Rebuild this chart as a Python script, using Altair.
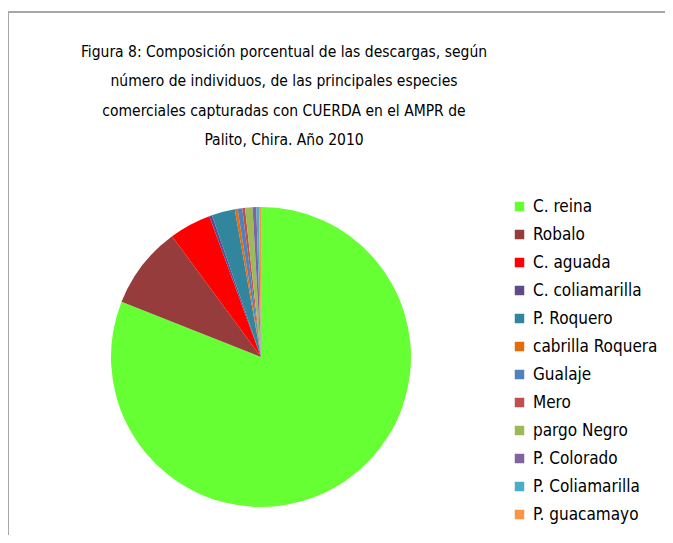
import altair as alt
import pandas as pd

species = ["C. reina", "Robalo", "C. aguada", "C. coliamarilla", "P. Roquero",
           "cabrilla Roquera", "Gualaje", "Mero", "pargo Negro", "P. Colorado",
           "P. Coliamarilla", "P. guacamayo"]
percent = [81.0, 8.9, 4.5, 0.3, 2.5, 0.3, 0.5, 0.3, 0.8, 0.4, 0.3, 0.2]
colors = ["#66ff33", "#963c3c", "#ff0000", "#5f4b8b", "#31859c", "#e46c0a",
          "#4f81bd", "#c0504d", "#9bbb59", "#8064a2", "#4bacc6", "#f79646"]
title_lines = ["Figura 8: Composición porcentual de las descargas, según",
               "número de individuos, de las principales especies",
               "comerciales capturadas con CUERDA en el AMPR de",
               "Palito, Chira. Año 2010"]

df = pd.DataFrame({"especie": species, "pct": percent, "orden": list(range(len(species)))})
tdf = pd.DataFrame({"t": ["\n".join(title_lines)]})

FONT = "DejaVu Sans Condensed, Roboto"

pie = alt.Chart(df).mark_arc(outerRadius=150, strokeWidth=0).encode(
    theta=alt.Theta("pct:Q", stack=True),
    order=alt.Order("orden:Q"),
    x=alt.value(253),
    y=alt.value(345),
    color=alt.Color("especie:N",
                    scale=alt.Scale(domain=species, range=colors),
                    sort=species,
                    legend=alt.Legend(title=None, orient="none", legendX=503, legendY=186,
                                      symbolType="square", symbolSize=90,
                                      symbolStrokeWidth=0,
                                      labelFont=FONT, labelFontSize=17,
                                      labelColor="#000000", rowPadding=10,
                                      labelOffset=5, labelLimit=300)),
)

title = alt.Chart(tdf).mark_text(font=FONT, fontSize=15.5, lineBreak="\n", lineHeight=29.3,
                                 align="center", baseline="middle", color="#000000").encode(
    x=alt.value(276),
    y=alt.value(40),
    text="t:N",
)

frame_top = alt.Chart(tdf).mark_rule(color="#a6a6a6", strokeWidth=2).encode(
    x=alt.value(0), x2=alt.value(657), y=alt.value(0))
frame_left = alt.Chart(tdf).mark_rule(color="#a6a6a6", strokeWidth=2).encode(
    x=alt.value(0), y=alt.value(0), y2=alt.value(523))

chart = alt.layer(frame_top, frame_left, pie, title).properties(
    width=657, height=523,
    padding={"left": 0, "top": 4, "right": 0, "bottom": 0},
    autosize=alt.AutoSizeParams(type="none"),
).configure_view(stroke=None).configure(background="white")

chart.save("out.html", embed_options={"renderer": "svg", "actions": False})
